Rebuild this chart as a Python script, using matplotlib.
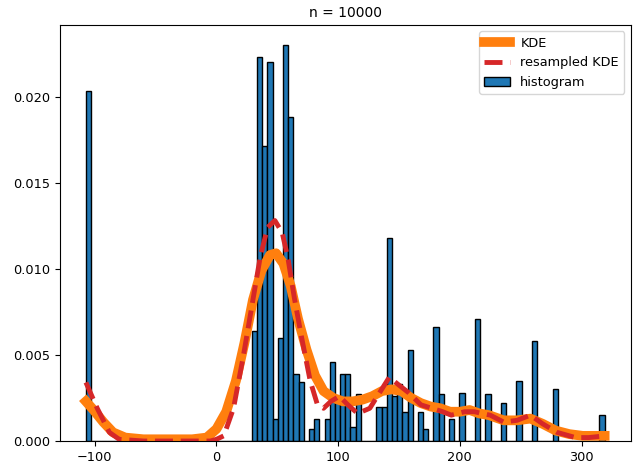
import numpy as np
import matplotlib
matplotlib.use("Agg")
import matplotlib.pyplot as plt

# ── Histogram (density), 100 equal bins over the data range ──
hist_lo, hist_hi, n_bins = -107.3, 319.0, 100
bar_bins = [0, 32, 33, 34, 35, 36, 37, 38, 39, 40, 41, 43, 44, 46, 47, 48, 49, 50,
            51, 52, 56, 57, 58, 59, 60, 61, 62, 64, 65, 67, 68, 70, 72, 75, 77,
            80, 83, 86, 90, 99]
bar_heights = [0.0203, 0.0064, 0.0223, 0.0171, 0.0220, 0.0013, 0.0060, 0.0230,
               0.0188, 0.0039, 0.0034, 0.0007, 0.0013, 0.0013, 0.0046, 0.0025,
               0.0039, 0.0039, 0.0008, 0.0027, 0.0020, 0.0020, 0.0118, 0.0026,
               0.0033, 0.0017, 0.0053, 0.0017, 0.0007, 0.0066, 0.0027, 0.0013,
               0.0028, 0.0071, 0.0027, 0.0022, 0.0035, 0.0058, 0.0030, 0.0015]

# ── KDE curve ──
kde_x = [-107.3, -101, -93, -85, -75, -60, -40, -20, -8, 0, 8, 16, 23, 30, 37, 44,
         49, 55, 61, 67, 74, 81, 88, 96, 104, 112, 120, 128, 136, 144, 152, 160,
         168, 176, 184, 192, 200, 208, 216, 224, 236, 247, 258, 268, 279, 290,
         301, 310, 319]
kde_y = [0.0023, 0.0018, 0.0011, 0.0005, 0.0002, 0.0001, 0.0001, 0.0001, 0.0002,
         0.0007, 0.0017, 0.0035, 0.0057, 0.0082, 0.0099, 0.0108, 0.0109, 0.0103,
         0.0090, 0.0071, 0.0053, 0.0038, 0.0029, 0.0025, 0.0023, 0.0023, 0.0024,
         0.0026, 0.0029, 0.0030, 0.0029, 0.0025, 0.0022, 0.0020, 0.0019, 0.0017,
         0.0017, 0.0018, 0.0016, 0.0015, 0.0012, 0.0012, 0.0013, 0.0010, 0.0006,
         0.0004, 0.0003, 0.0003, 0.0003]

# ── resampled KDE curve ──
res_x = [-107.3, -98, -88, -80, -60, -40, -20, -5, 0, 6, 14, 22, 29, 36, 42, 48,
         54, 59, 64, 70, 77, 83, 88, 94, 101, 108, 116, 126, 134, 142, 149, 158,
         168, 177, 186, 193, 204, 212, 218, 225, 236, 247, 258, 268, 280, 295,
         306, 319]
res_y = [0.0034, 0.0019, 0.0005, 0.0001, 0.0000, 0.0000, 0.0000, 0.0000, 0.0001,
         0.0003, 0.0019, 0.0049, 0.0078, 0.0107, 0.0124, 0.0128, 0.0121, 0.0105,
         0.0083, 0.0060, 0.0035, 0.0021, 0.0019, 0.0023, 0.0026, 0.0021, 0.0016,
         0.0019, 0.0028, 0.0037, 0.0033, 0.0028, 0.0021, 0.0019, 0.0017, 0.0015,
         0.0017, 0.0017, 0.0016, 0.0015, 0.0011, 0.0012, 0.0015, 0.0010, 0.0005,
         0.0002, 0.0002, 0.0003]

edges = np.linspace(hist_lo, hist_hi, n_bins + 1)
centers = 0.5 * (edges[:-1] + edges[1:])

fig = plt.figure(figsize=(6.34, 4.65), dpi=100)
ax = fig.add_axes([0.0946, 0.0516, 0.9, 0.8946])

ax.hist(centers[bar_bins], bins=edges, weights=bar_heights,
        color="#1f77b4", edgecolor="k", linewidth=1.0, label="histogram")
ax.plot(kde_x, kde_y, color="#ff7f0e", linewidth=7, label="KDE")
ax.plot(res_x, res_y, "--", color="#d62728", linewidth=3.5, label="resampled KDE")

ax.set_title("n = 10000", fontsize=10)
ax.tick_params(labelsize=9.3)
ax.set_yticks([0.0, 0.005, 0.010, 0.015, 0.020])
ax.set_yticklabels(["0.000", "0.005", "0.010", "0.015", "0.020"])

h, l = ax.get_legend_handles_labels()
order = [l.index("KDE"), l.index("resampled KDE"), l.index("histogram")]
ax.legend([h[i] for i in order], [l[i] for i in order], fontsize=9.3, loc="upper right")

plt.savefig("out.png", dpi=100)
